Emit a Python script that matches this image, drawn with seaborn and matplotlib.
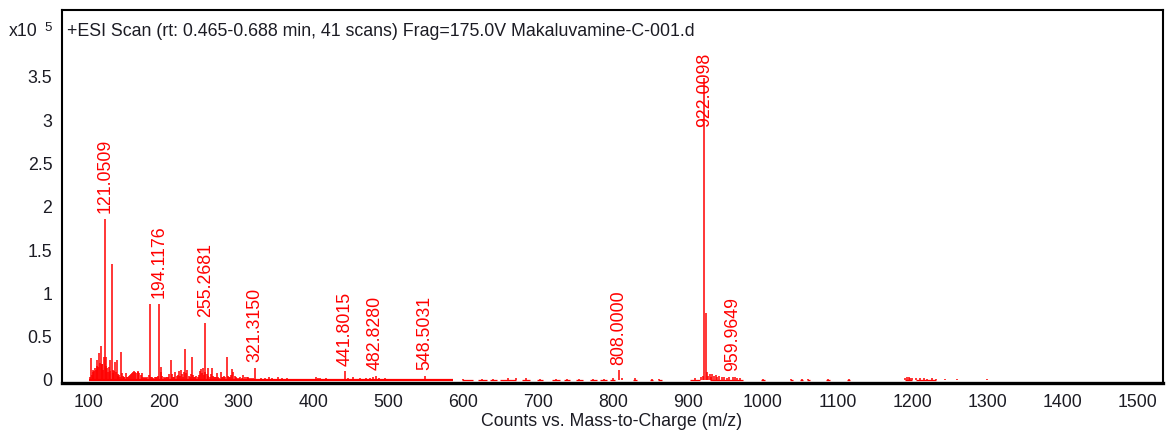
import matplotlib
matplotlib.use("Agg")
import matplotlib.pyplot as plt
import seaborn as sns
import numpy as np

# Annotated peaks (m/z, counts)
label_mz = [121.0509, 194.1176, 255.2681, 321.3150, 441.8015, 482.8280,
            548.5031, 808.0000, 922.0098, 959.9649]
label_counts = [186000, 88000, 66000, 14000, 10000, 5000,
                5000, 11000, 348700, 4000]

# Other centroid peaks (m/z, counts)
peak_mz = [
    101.5, 102.7, 103.8, 104.8, 105.9, 107.0, 108.1, 109.0, 110.2, 111.3,
    112.3, 113.4, 114.4, 115.6, 116.7, 117.8, 118.9, 120.0, 122.1, 123.2,
    124.2, 125.3, 126.3, 127.4, 128.5, 130.3, 131.4, 132.5, 133.5, 134.6,
    135.7, 137.0, 138.1, 139.2, 140.3, 141.4, 142.7, 143.8, 145.0, 146.2,
    147.3, 149.0, 150.3, 152.0, 153.5, 155.0, 156.5, 158.0, 159.3, 160.6,
    162.0, 163.3, 164.8, 166.0, 167.3, 168.8, 170.5, 172.0, 173.5, 175.0,
    176.5, 178.0, 180.2, 181.6, 183.0, 184.5, 186.0, 187.5, 189.0, 190.5,
    192.0, 195.5, 196.8, 198.0, 199.5, 201.0, 202.5, 204.0, 205.5, 207.0,
    209.5, 211.0, 212.5, 214.0, 215.5, 217.0, 218.5, 220.2, 221.5, 223.0,
    224.5, 226.0, 227.3, 228.6, 230.0, 231.5, 233.0, 234.5, 236.0, 237.7,
    239.0, 240.5, 242.0, 243.5, 245.0, 246.5, 248.0, 249.5, 251.0, 252.3,
    253.5, 254.3, 257.0, 258.5, 259.5, 261.0, 262.5, 264.0, 265.5, 267.0,
    268.5, 270.0, 271.2, 272.5, 274.0, 276.0, 277.5, 279.0, 280.5, 282.0,
    284.0, 285.5, 287.0, 288.5, 290.0, 291.5, 293.0, 294.5, 296.0, 298.0,
    300.0, 302.0, 304.0, 306.0, 308.0, 310.6, 312.0, 314.0, 316.0, 318.5,
    330.0, 335.0, 340.0, 345.0, 352.0, 358.0, 364.0, 370.0, 380.0, 390.0,
    403.0, 406.0, 409.0, 416.0, 425.0, 433.0, 446.0, 452.0, 462.0, 470.0,
    476.0, 480.0, 488.0, 495.0, 505.0, 515.0, 530.0, 540.0, 560.0, 600.0,
    625.0, 640.0, 660.0, 670.0, 684.0, 702.0, 724.0, 738.0, 755.0, 773.0,
    788.0, 800.0, 812.0, 829.0, 852.0, 862.0, 910.0, 918.0, 920.5, 923.8,
    925.5, 927.0, 929.0, 931.0, 932.5, 935.0, 937.0, 939.5, 942.0, 945.0,
    948.0, 952.0, 955.0, 963.0, 966.0, 970.0, 1001.0, 1038.0, 1052.0, 1061.0,
    1087.0, 1115.0, 1190.0, 1193.0, 1195.0, 1197.0, 1199.0, 1205.0, 1210.0, 1215.0,
    1220.0, 1226.0, 1231.0, 1243.0, 1259.0, 1299.0,
]
peak_counts = [
    3000, 25000, 6000, 9000, 12000, 10000, 14000, 11000, 16000, 23000,
    15000, 31000, 20000, 39000, 18000, 19000, 12000, 27000, 16000, 27000,
    14000, 9000, 15000, 23000, 10000, 134000, 12000, 8000, 10000, 21000,
    9000, 23000, 7000, 5000, 6000, 4000, 32000, 8000, 5000, 3000,
    4000, 8500, 3000, 4000, 5000, 6000, 7000, 8000, 9000, 10500,
    9000, 8000, 10000, 9000, 8000, 6000, 7500, 3000, 2500, 3000,
    2000, 4000, 6000, 88000, 4000, 3000, 2500, 3000, 4000, 3000,
    5000, 15000, 9000, 5000, 3000, 2500, 3000, 4000, 3000, 7000,
    23000, 7000, 3000, 4000, 9000, 5000, 6000, 10000, 5000, 11000,
    7000, 4000, 9000, 36000, 8000, 12000, 5000, 4000, 7000, 27000,
    6000, 4000, 3000, 5000, 3500, 6000, 10000, 13000, 8000, 14000,
    6000, 9000, 7000, 14000, 5000, 4000, 7000, 13500, 5000, 3000,
    4000, 3000, 7500, 3000, 2500, 9000, 4000, 3000, 5000, 4000,
    26000, 5000, 3000, 4000, 6000, 13000, 9000, 5000, 3000, 2500,
    2000, 3000, 2500, 5500, 3000, 3000, 3500, 2000, 2500, 2000,
    2000, 2500, 4000, 2000, 3000, 2500, 2500, 1500, 1500, 1500,
    3500, 2500, 2000, 2000, 1500, 1500, 2500, 3000, 2500, 2000,
    2500, 3000, 2000, 2000, 1500, 1500, 1500, 1500, 1500, 1500,
    1500, 1500, 2000, 2500, 2000, 1500, 1500, 1500, 1500, 1500,
    1500, 2000, 2000, 2500, 1500, 1500, 2000, 3000, 5000, 77000,
    9000, 5000, 7000, 4000, 7000, 5000, 6000, 4000, 5000, 3000,
    3500, 2500, 3000, 3000, 2500, 2000, 1500, 1500, 1500, 1500,
    1500, 1500, 2000, 3000, 3000, 2500, 2000, 2000, 2000, 2000,
    1500, 2000, 1500, 1500, 1500, 1500,
]

# Stretches of m/z where the trace sits just above the baseline
floor_start = [100, 598, 620, 636, 649, 678, 698, 718, 734, 751, 769, 783, 796,
               827, 849, 860, 903, 929, 998, 1036, 1050, 1059, 1085, 1112, 1190, 1205]
floor_end = [586, 613, 631, 645, 671, 689, 707, 729, 742, 760, 778, 792, 803,
             832, 854, 865, 916, 974, 1003, 1041, 1054, 1063, 1090, 1117, 1199, 1232]

x_ticks = list(range(100, 1600, 100))
y_ticks = [0, 50000, 100000, 150000, 200000, 250000, 300000, 350000]
y_tick_labels = ["0", "0.5", "1", "1.5", "2", "2.5", "3", "3.5"]

title = "+ESI Scan (rt: 0.465-0.688 min, 41 scans) Frag=175.0V Makaluvamine-C-001.d"
x_label = "Counts vs. Mass-to-Charge (m/z)"

sns.set_style("white")
plt.rcParams["font.family"] = ["Liberation Sans", "DejaVu Sans"]

RED = "#ff0000"
INK = "#1c1c24"
FS = 12.8
W, H = 1172, 437

fig = plt.figure(figsize=(W / 100, H / 100), dpi=100)
ax = fig.add_axes([62 / W, 1 - 383 / H, (1163 - 62) / W, (383 - 10) / H])

# Baseline noise floor: dense part, then the sparse stretches
ax.hlines([0], floor_start[:1], floor_end[:1], color=RED, linewidth=1.6, zorder=2)
ax.hlines(np.zeros(len(floor_start) - 1), floor_start[1:], floor_end[1:],
          color=RED, linewidth=0.9, zorder=2)

# Sticks
all_mz = peak_mz + label_mz
all_counts = peak_counts + label_counts
ax.vlines(all_mz, 0, all_counts, color=RED, linewidth=1.1, zorder=3)

# Peak annotations
for mz, c in zip(label_mz, label_counts):
    txt = f"{mz:.4f}"
    if c > 300000:
        ax.text(mz, 378000, txt, rotation=90, ha="center", va="top",
                color=RED, fontsize=FS, zorder=4)
    else:
        ax.text(mz, c + 6500, txt, rotation=90, ha="center", va="bottom",
                color=RED, fontsize=FS, zorder=4)

ax.set_xlim(63.9, 1534.7)
ax.set_ylim(-3500, 427200)
ax.set_xticks(x_ticks)
ax.set_xticklabels([str(t) for t in x_ticks])
ax.set_yticks(y_ticks)
ax.set_yticklabels(y_tick_labels)
ax.tick_params(axis="both", direction="out", length=5, width=1.3,
               color="black", labelsize=FS, labelcolor=INK, pad=2)
ax.tick_params(axis="x", pad=3)

for side in ["top", "left", "right"]:
    ax.spines[side].set_color("black")
    ax.spines[side].set_linewidth(1.5)
ax.spines["bottom"].set_color("black")
ax.spines["bottom"].set_linewidth(2.4)

fig.text(67 / W, 1 - 31 / H, title, ha="left", va="center",
         fontsize=FS, color=INK)
fig.text(9 / W, 1 - 32 / H, "x10", ha="left", va="center",
         fontsize=FS, color=INK)
fig.text(44 / W, 1 - 28 / H, "5", ha="left", va="center",
         fontsize=9.5, color=INK)
fig.text(612 / W, 1 - 422 / H, x_label, ha="center", va="center",
         fontsize=FS, color=INK)

fig.savefig("out.png", dpi=100, facecolor="white")
